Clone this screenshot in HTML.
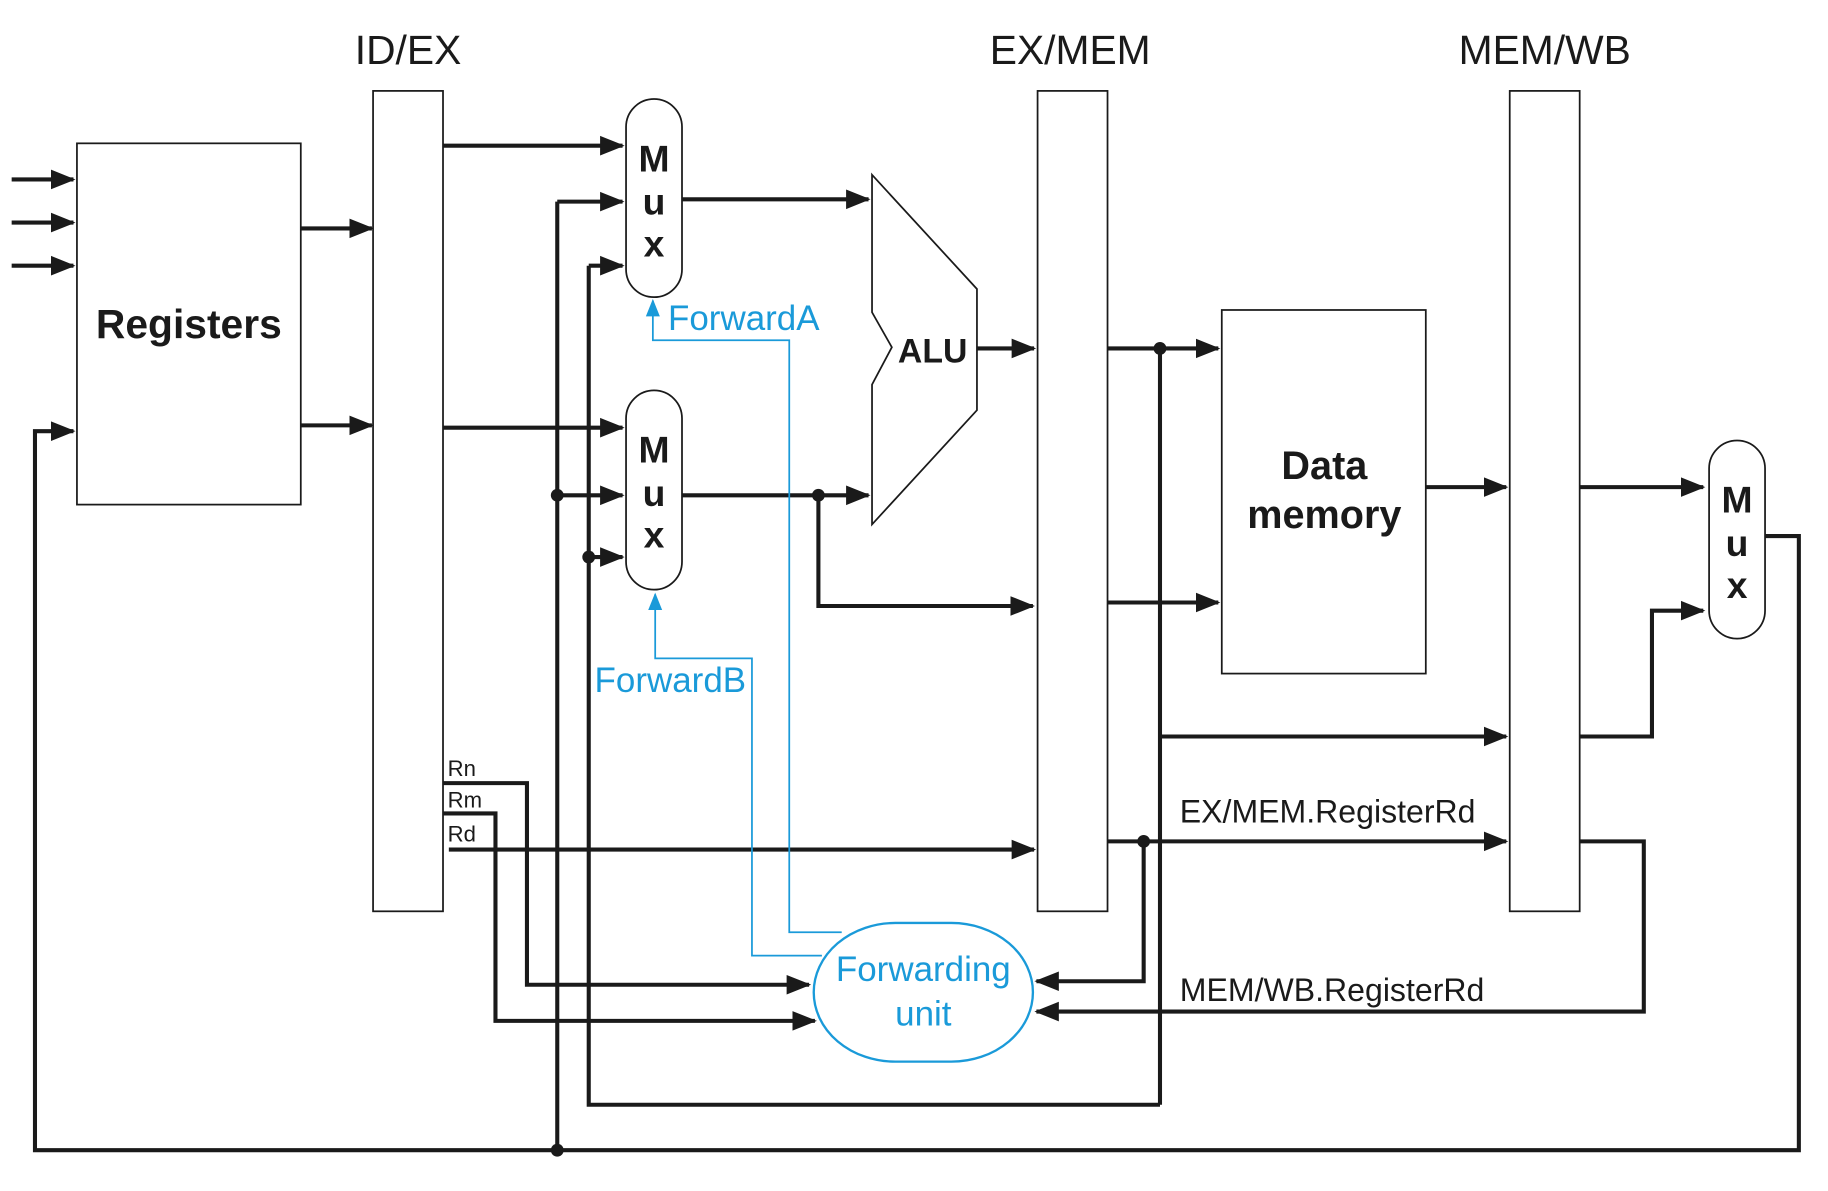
<!DOCTYPE html>
<html><head><meta charset="utf-8"><style>
html,body{margin:0;padding:0;background:#fff;}
svg{display:block;}
text{font-family:"Liberation Sans",Arial,sans-serif;}
</style></head><body>
<svg width="1828" height="1191" viewBox="0 0 1568 1022" preserveAspectRatio="none" xmlns="http://www.w3.org/2000/svg">
<defs>
<marker id="a" markerWidth="6" markerHeight="6" refX="5.5" refY="3" orient="auto" markerUnits="strokeWidth"><path d="M0,0.6 L6,3 L0,5.4 Z" fill="#1a1a1a"/></marker>
<marker id="b" markerWidth="10" markerHeight="10" refX="9" refY="5" orient="auto" markerUnits="strokeWidth"><path d="M0,1 L10,5 L0,9 Z" fill="#1a9ad9"/></marker>
</defs>
<g fill="none" stroke="#1a1a1a" stroke-width="3.5">
<path d="M10,154H63" marker-end="url(#a)"/>
<path d="M10,191H63" marker-end="url(#a)"/>
<path d="M10,228H63" marker-end="url(#a)"/>
<path d="M258,196H319" marker-end="url(#a)"/>
<path d="M258,365H319" marker-end="url(#a)"/>
<path d="M380,125H534" marker-end="url(#a)"/>
<path d="M585,171H745" marker-end="url(#a)"/>
<path d="M478,173H534" marker-end="url(#a)"/>
<path d="M478,173V987"/>
<path d="M505,228H534" marker-end="url(#a)"/>
<path d="M505,228V948H995"/>
<path d="M380,367H534" marker-end="url(#a)"/>
<path d="M478,425H534" marker-end="url(#a)"/>
<path d="M505,478H534" marker-end="url(#a)"/>
<path d="M585,425H745" marker-end="url(#a)"/>
<path d="M702,425V520H886" marker-end="url(#a)"/>
<path d="M838,299H887" marker-end="url(#a)"/>
<path d="M950,299H1045" marker-end="url(#a)"/>
<path d="M995,299V948"/>
<path d="M995,632H1292" marker-end="url(#a)"/>
<path d="M948,517H1045" marker-end="url(#a)"/>
<path d="M1223,418H1292" marker-end="url(#a)"/>
<path d="M1355,418H1461" marker-end="url(#a)"/>
<path d="M1355,632H1417V524H1461" marker-end="url(#a)"/>
<path d="M1514,460H1543V987H30V370H63" marker-end="url(#a)"/>
<path d="M385,729H887" marker-end="url(#a)"/>
<path d="M380,672H452V845H694" marker-end="url(#a)"/>
<path d="M380,698H425V876H699" marker-end="url(#a)"/>
<path d="M948,722H1292" marker-end="url(#a)"/>
<path d="M981,722V842H889" marker-end="url(#a)"/>
<path d="M1355,722H1410V868H889" marker-end="url(#a)"/>
</g>
<g fill="#1a1a1a">
<circle cx="478" cy="425" r="5.5"/><circle cx="505" cy="478" r="5.5"/><circle cx="702" cy="425" r="5.5"/>
<circle cx="995" cy="299" r="5.5"/><circle cx="981" cy="722" r="5.5"/><circle cx="478" cy="987" r="5.5"/>
</g>
<g fill="#fff" stroke="#1a1a1a" stroke-width="1.5">
<rect x="66" y="123" width="192" height="310"/>
<rect x="320" y="78" width="60" height="704"/>
<rect x="890" y="78" width="60" height="704"/>
<rect x="1295" y="78" width="60" height="704"/>
<rect x="1048" y="266" width="175" height="312"/>
<rect x="537" y="85" width="48" height="170" rx="24"/>
<rect x="537" y="335" width="48" height="171" rx="24"/>
<rect x="1466" y="378" width="48" height="170" rx="24"/>
<path d="M748,150L838,248V352L748,450V330L765,298L748,268Z"/>
</g>
<g fill="none" stroke="#1a9ad9" stroke-width="1.5">
<rect x="698" y="792" width="188" height="119" rx="70" ry="60" stroke-width="2"/>
<path d="M722,800H677V292H560V258" marker-end="url(#b)"/>
<path d="M705,820H645V565H562V510" marker-end="url(#b)"/>
</g>
<g fill="#1a1a1a" font-size="35" text-anchor="middle">
<text x="350" y="55">ID/EX</text>
<text x="918" y="55">EX/MEM</text>
<text x="1325" y="55">MEM/WB</text>
</g>
<g fill="#1a1a1a" font-weight="bold" text-anchor="middle">
<text x="162" y="290" font-size="35">Registers</text>
<text x="800" y="311" font-size="29">ALU</text>
<text x="1136" y="411" font-size="34">Data</text>
<text x="1136" y="453" font-size="34">memory</text>
<g font-size="32">
<text x="561" y="147">M</text><text x="561" y="184">u</text><text x="561" y="220">x</text>
<text x="561" y="397">M</text><text x="561" y="434">u</text><text x="561" y="470">x</text>
<text x="1490" y="440">M</text><text x="1490" y="477">u</text><text x="1490" y="513">x</text>
</g>
</g>
<g fill="#1a1a1a" font-size="19">
<text x="384" y="666">Rn</text><text x="384" y="693">Rm</text><text x="384" y="722">Rd</text>
</g>
<g fill="#1a1a1a" font-size="27.5">
<text x="1012" y="706">EX/MEM.RegisterRd</text>
<text x="1012" y="859">MEM/WB.RegisterRd</text>
</g>
<g fill="#1a9ad9" font-size="30">
<text x="573" y="283">ForwardA</text>
<text x="510" y="594">ForwardB</text>
<text x="792" y="842" text-anchor="middle">Forwarding</text>
<text x="792" y="880" text-anchor="middle">unit</text>
</g>
</svg>
</body></html>
